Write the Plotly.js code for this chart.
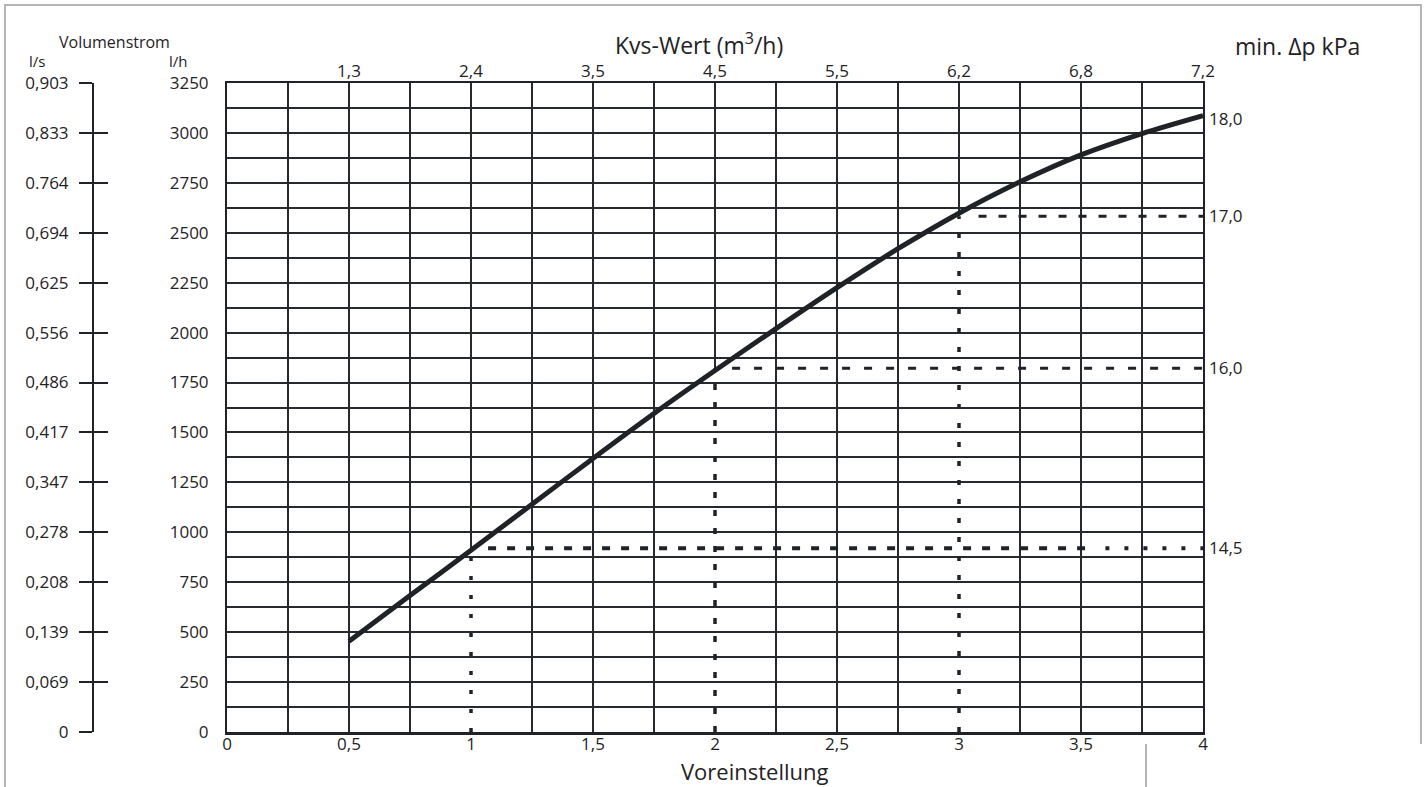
<!DOCTYPE html>
<html>
<head>
<meta charset="utf-8">
<script src="https://cdn.plot.ly/plotly-3.0.1.min.js"></script>
<style>
  html, body { margin: 0; padding: 0; background: #fff; }
  #chart { width: 1427px; height: 787px; position: absolute; left: 0; top: 0; }
  .frame { position: absolute; background: #b4b4b4; }
</style>
</head>
<body>
<div id="chart"></div>
<div class="frame" style="left:4px; top:4px; width:1418px; height:2px;"></div>
<div class="frame" style="left:4px; top:4px; width:2px; height:783px;"></div>
<div class="frame" style="left:1420px; top:4px; width:2px; height:740px;"></div>
<div class="frame" style="left:1145px; top:744px; width:2px; height:43px;"></div>
<script>
// ---- data ----
const presetX = [0.5, 0.75, 1.0, 1.25, 1.5, 1.75, 2.0, 2.25, 2.5, 2.75, 3.0, 3.25, 3.5, 3.75, 4.0];
const flowLh  = [455, 683, 910, 1140, 1370, 1595, 1810, 2020, 2225, 2420, 2598, 2755, 2890, 2997, 3087];

const xTicks    = [0, 0.5, 1, 1.5, 2, 2.5, 3, 3.5, 4];
const xLabels   = ['0', '0,5', '1', '1,5', '2', '2,5', '3', '3,5', '4'];
const kvsTicks  = [0.5, 1, 1.5, 2, 2.5, 3, 3.5, 4];
const kvsLabels = ['1,3', '2,4', '3,5', '4,5', '5,5', '6,2', '6,8', '7,2'];
const gridX     = [0.25, 0.5, 0.75, 1.25, 1.5, 1.75, 2.25, 2.5, 2.75, 3.25, 3.5, 3.75];

const lhTicks  = [0, 250, 500, 750, 1000, 1250, 1500, 1750, 2000, 2250, 2500, 2750, 3000, 3250];
const lhLabels = ['0', '250', '500', '750', '1000', '1250', '1500', '1750', '2000', '2250', '2500', '2750', '3000', '3250'];
const lsLabels = ['0', '0,069', '0,139', '0,208', '0,278', '0,347', '0,417', '0,486', '0,556', '0,625', '0,694', '0.764', '0,833', '0,903'];

const presetMarks = [1, 2, 3];
const dpFlow      = [920, 1822, 2583];
const dpStartX    = [1.07, 2.07, 3.08];
const dpLabelPos  = [920, 1822, 2583, 3070];
const dpLabels    = ['14,5', '16,0', '17,0', '18,0'];
const yMax = 3250;

// ---- helpers ----
const INK = '#1f2226';
const GRID = '#26292d';
const FONT = 'Open Sans, Noto Sans, sans-serif';
const W = 1427, H = 787, ML = 20, MR = 224, MT = 83, MB = 55;
const PW = W - ML - MR, PH = H - MT - MB;
const px = v => (v - ML) / PW;
const py = v => (H - MB - v) / PH;

const traces = [];
// upper parts of the grid lines at the marked presets (solid above the marking)
presetMarks.forEach((m, i) => {
  traces.push({ x: [m, m], y: [dpFlow[i], yMax], mode: 'lines', type: 'scatter',
    line: { color: GRID, width: 2 }, hoverinfo: 'skip', showlegend: false });
});
traces.push({
  x: presetX, y: flowLh, mode: 'lines', type: 'scatter',
  line: { color: INK, width: 5, shape: 'spline', smoothing: 0.8 },
  hoverinfo: 'skip', showlegend: false
});

const hStyles = [
  { width: 4, dash: '8px,11px' },
  { width: 3, dash: '8px,14px' },
  { width: 3, dash: '8px,12px' }
];
const vStyles = [
  { width: 3.5, dash: '4px,15px' },
  { width: 3.5, dash: '6px,12px' },
  { width: 3.5, dash: '5px,14px' }
];
presetMarks.forEach((m, i) => {
  if (i === 0) {
    traces.push({ x: [dpStartX[i], 3.56], y: [dpFlow[i], dpFlow[i]], mode: 'lines', type: 'scatter',
      line: { color: INK, width: hStyles[i].width, dash: hStyles[i].dash }, hoverinfo: 'skip', showlegend: false });
    traces.push({ x: [3.6, 4], y: [dpFlow[i], dpFlow[i]], mode: 'lines', type: 'scatter',
      line: { color: INK, width: 4, dash: '4px,15px' }, hoverinfo: 'skip', showlegend: false });
  } else {
    traces.push({ x: [dpStartX[i], 4], y: [dpFlow[i], dpFlow[i]], mode: 'lines', type: 'scatter',
      line: { color: INK, width: hStyles[i].width, dash: hStyles[i].dash }, hoverinfo: 'skip', showlegend: false });
  }
  traces.push({ x: [m, m], y: [0, dpFlow[i]], mode: 'lines', type: 'scatter',
    line: { color: INK, width: vStyles[i].width, dash: vStyles[i].dash }, hoverinfo: 'skip', showlegend: false });
});
// empty traces to register the extra axes
traces.push({ x: [], y: [], xaxis: 'x2', yaxis: 'y', type: 'scatter', showlegend: false });
traces.push({ x: [], y: [], xaxis: 'x3', yaxis: 'y', type: 'scatter', showlegend: false });
traces.push({ x: [], y: [], xaxis: 'x', yaxis: 'y2', type: 'scatter', showlegend: false });
traces.push({ x: [], y: [], xaxis: 'x', yaxis: 'y3', type: 'scatter', showlegend: false });
traces.push({ x: [], y: [], xaxis: 'x', yaxis: 'y4', type: 'scatter', showlegend: false });

const tickFont = { family: FONT, size: 17, color: INK };
const dom0 = px(227);

const layout = {
  width: W, height: H,
  margin: { l: ML, r: MR, t: MT, b: MB, pad: 0 },
  paper_bgcolor: 'rgba(0,0,0,0)', plot_bgcolor: '#ffffff',
  font: { family: FONT, color: INK },
  showlegend: false,
  xaxis: {
    domain: [dom0, 1], range: [0, 4], tickmode: 'array', tickvals: gridX, showticklabels: false,
    showgrid: true, gridcolor: GRID, gridwidth: 2,
    showline: true, linecolor: INK, linewidth: 2.5, mirror: true,
    zeroline: false, ticks: ''
  },
  xaxis3: {
    overlaying: 'x', side: 'bottom', anchor: 'y', range: [0, 4], tickmode: 'array',
    tickvals: xTicks, ticktext: xLabels, showgrid: false, zeroline: false, ticks: '',
    tickfont: tickFont, ticklabelstandoff: 0, showline: false
  },
  xaxis2: {
    overlaying: 'x', side: 'top', anchor: 'y', range: [0, 4], tickmode: 'array',
    tickvals: kvsTicks, ticktext: kvsLabels, showgrid: false, zeroline: false, ticks: '',
    tickfont: tickFont, ticklabelstandoff: 2, showline: false
  },
  yaxis: {
    anchor: 'x', range: [0, yMax], tickmode: 'array', tickvals: lhTicks, ticktext: lhLabels,
    showgrid: true, gridcolor: GRID, gridwidth: 2,
    minor: { tickmode: 'linear', tick0: 0, dtick: 125, showgrid: true, gridcolor: GRID, gridwidth: 2, ticks: '' },
    showline: true, linecolor: INK, linewidth: 2, mirror: true,
    zeroline: false, ticks: '', tickfont: tickFont, ticklabelstandoff: 13
  },
  yaxis2: {
    overlaying: 'y', anchor: 'free', position: px(93), side: 'left', range: [0, yMax],
    tickmode: 'array', tickvals: lhTicks, ticktext: lsLabels,
    ticks: 'outside', ticklen: 13, tickwidth: 2, tickcolor: INK,
    showline: true, linecolor: INK, linewidth: 2, showgrid: false, zeroline: false,
    tickfont: tickFont, ticklabelstandoff: 7
  },
  yaxis3: {
    overlaying: 'y', anchor: 'free', position: px(93), side: 'left', range: [0, yMax],
    tickmode: 'array', tickvals: lhTicks, ticks: 'inside', ticklen: 14, tickwidth: 2, tickcolor: INK,
    showticklabels: false, showline: false, showgrid: false, zeroline: false
  },
  yaxis4: {
    overlaying: 'y', anchor: 'x', side: 'right', range: [0, yMax],
    tickmode: 'array', tickvals: dpLabelPos, ticktext: dpLabels, ticks: '',
    showgrid: false, zeroline: false, showline: false, tickfont: tickFont, ticklabelstandoff: 5
  },
  annotations: [
    { text: 'Volumenstrom', x: px(114), y: py(42), xref: 'paper', yref: 'paper', showarrow: false,
      xanchor: 'center', yanchor: 'middle', font: { family: FONT, size: 16, color: INK } },
    { text: 'l/s', x: px(37), y: py(61), xref: 'paper', yref: 'paper', showarrow: false,
      xanchor: 'center', yanchor: 'middle', font: { family: FONT, size: 15, color: INK } },
    { text: 'l/h', x: px(178), y: py(61), xref: 'paper', yref: 'paper', showarrow: false,
      xanchor: 'center', yanchor: 'middle', font: { family: FONT, size: 15, color: INK } },
    { text: 'Kvs-Wert (m<sup>3</sup>/h)', x: px(699), y: py(44), xref: 'paper', yref: 'paper', showarrow: false,
      xanchor: 'center', yanchor: 'middle', font: { family: FONT, size: 23, color: INK } },
    { text: 'min. Δp kPa', x: px(1298), y: py(46), xref: 'paper', yref: 'paper', showarrow: false,
      xanchor: 'center', yanchor: 'middle', font: { family: FONT, size: 23, color: INK } },
    { text: 'Voreinstellung', x: px(755), y: py(771), xref: 'paper', yref: 'paper', showarrow: false,
      xanchor: 'center', yanchor: 'middle', font: { family: FONT, size: 22, color: INK } }
  ]
};

Plotly.newPlot('chart', traces, layout, { displayModeBar: false, staticPlot: true });
</script>
</body>
</html>
